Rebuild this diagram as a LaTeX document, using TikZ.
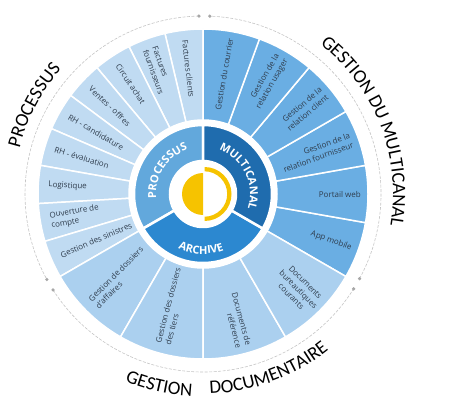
\documentclass[tikz,border=0pt]{standalone}
\usepackage{fontspec}
\setmainfont{Carlito}
\newfontfamily\osans{Open Sans}
\usetikzlibrary{decorations.text}
\definecolor{procseg}{HTML}{C0DBF2}
\definecolor{docseg}{HTML}{ABD0EF}
\definecolor{multseg}{HTML}{6AAEE3}
\definecolor{hubproc}{HTML}{62A8DC}
\definecolor{hubmult}{HTML}{1F6CAE}
\definecolor{hubarch}{HTML}{2C88D0}
\definecolor{sun}{HTML}{F6C300}
\definecolor{segtext}{HTML}{2F3D4D}
\definecolor{ringgray}{HTML}{C4C4C4}
\newcommand{\titlefont}{\fontsize{19}{19}\selectfont}
\newcommand{\hubfont}{\osans\fontsize{11}{12}\selectfont\bfseries}
\tikzset{
  segtxt/.style={font=\osans\fontsize{8}{10}\selectfont, text=segtext, inner sep=0pt},
  lefttxt/.style={segtxt, anchor=west, align=left},
  righttxt/.style={segtxt, anchor=east, align=right},
  sepline/.style={draw=white, line width=1.5pt},
  hubsep/.style={draw=white, line width=2.5pt},
  dashring/.style={draw=ringgray, line width=0.6pt, dash pattern=on 3pt off 1.5pt},
  ringdot/.style={fill=ringgray!85!black},
}
\begin{document}
\begin{tikzpicture}[x=1pt,y=1pt]
\useasboundingbox (0,0) rectangle (474,400);
\coordinate (C) at (203,206);

% outer segments: processus
\foreach \i in {0,...,8}{
  \pgfmathsetmacro\a{90+\i*40/3}
  \pgfmathsetmacro\b{\a+40/3}
  \filldraw[fill=procseg, sepline] ([shift={(\a:74)}]C) arc[start angle=\a, end angle=\b, radius=74]
    -- ([shift={(\b:165)}]C) arc[start angle=\b, end angle=\a, radius=165] -- cycle;
}
% multicanal
\foreach \i in {0,...,5}{
  \pgfmathsetmacro\a{-30+\i*20}
  \pgfmathsetmacro\b{\a+20}
  \filldraw[fill=multseg, sepline] ([shift={(\a:74)}]C) arc[start angle=\a, end angle=\b, radius=74]
    -- ([shift={(\b:165)}]C) arc[start angle=\b, end angle=\a, radius=165] -- cycle;
}
% documentaire
\foreach \i in {0,...,3}{
  \pgfmathsetmacro\a{210+\i*30}
  \pgfmathsetmacro\b{\a+30}
  \filldraw[fill=docseg, sepline] ([shift={(\a:74)}]C) arc[start angle=\a, end angle=\b, radius=74]
    -- ([shift={(\b:165)}]C) arc[start angle=\b, end angle=\a, radius=165] -- cycle;
}

% hub ring
\filldraw[fill=hubproc, hubsep] ([shift={(90:33)}]C) arc[start angle=90, end angle=210, radius=33]
  -- ([shift={(210:69)}]C) arc[start angle=210, end angle=90, radius=69] -- cycle;
\filldraw[fill=hubarch, hubsep] ([shift={(210:33)}]C) arc[start angle=210, end angle=330, radius=33]
  -- ([shift={(330:69)}]C) arc[start angle=330, end angle=210, radius=69] -- cycle;
\filldraw[fill=hubmult, hubsep] ([shift={(-30:33)}]C) arc[start angle=-30, end angle=90, radius=33]
  -- ([shift={(90:69)}]C) arc[start angle=90, end angle=-30, radius=69] -- cycle;

% yellow symbol
\fill[sun] ([shift={(90:21)}]C) arc[start angle=90, end angle=270, radius=21] -- cycle;
\fill[sun] ([shift={(90:27)}]C) ++(1.5,0) arc[start angle=90, end angle=-90, radius=27]
  -- ++(0,4.3) arc[start angle=-90, end angle=90, radius=22.7] -- cycle;

% dashed outer ring
\draw[dashring] ([shift={(91.3:178)}]C) arc[start angle=91.3, end angle=208.7, radius=178];
\draw[dashring] ([shift={(212.6:178)}]C) arc[start angle=212.6, end angle=327.8, radius=178];
\draw[dashring] ([shift={(-28.4:178)}]C) arc[start angle=-28.4, end angle=87.8, radius=178];
\foreach \d in {91.3,87.8,208.7,212.6,-28.4,-32.2}{
  \fill[ringdot] ([shift={(\d:178)}]C) circle[radius=1.8];
}

% segment labels: processus (reading inward)
\foreach \ang/\txt [count=\k] in {96.667/{Factures clients}, 110/{Factures\\fournisseurs},
  123.333/{Circuit achat}, 136.667/{Ventes - offres}, 150/{RH - candidature},
  163.333/{RH - évaluation}, 176.667/{Logistique}, 190/{Ouverture de\\compte},
  203.333/{Gestion des sinistres}, 225/{Gestion de dossiers\\d’affaires},
  255/{Gestion des dossiers\\des tiers}}{
  \pgfmathsetmacro\rot{\ang-180}
  \node[lefttxt, rotate=\rot] (L\k) at ([shift={(\ang:155)}]C) {\txt};
}
% segment labels: multicanal and right documentaire (reading outward)
\foreach \ang/\txt [count=\k] in {80/{Gestion du courrier}, 60/{Gestion de la\\relation usager},
  40/{Gestion de la\\relation client}, 20/{Gestion de la\\relation fournisseur},
  0/{Portail web}, -20/{App mobile}, -75/{Documents de\\référence}}{
  \node[righttxt, rotate=\ang] (R\k) at ([shift={(\ang:158)}]C) {\txt};
}
\node[righttxt, align=center, rotate=-45] (R8) at ([shift={(-45:160)}]C) {Documents\\bureautiques\\courants};

% hub labels
\path[decorate, decoration={text along path, text align=center, text color=white,
  text={|\hubfont|PROCESSUS}}] ([shift={(207:47)}]C) arc[start angle=207, end angle=87, radius=47];
\path[decorate, decoration={text along path, text align=center, text color=white,
  text={|\hubfont|MULTICANAL}}] ([shift={(86:47)}]C) arc[start angle=86, end angle=-34, radius=47];
\path[decorate, decoration={text along path, text align=center, text color=white,
  text={|\hubfont|ARCHIVE}}] ([shift={(208:60)}]C) arc[start angle=208, end angle=328, radius=60];

% outer titles
\path[decorate, decoration={text along path, text align=left, text color=black,
  text={|\titlefont|PROCESSUS}}] ([shift={(166:189)}]C) arc[start angle=166, end angle=110, radius=189];
\path[decorate, decoration={text along path, text align=left, text color=black,
  text={|\titlefont|GESTION DU MULTICANAL}}] ([shift={(52:190)}]C) arc[start angle=52, end angle=-40, radius=190];
\path[decorate, decoration={text along path, text align=left, text color=black,
  text={|\titlefont|GESTION}}] ([shift={(247.4:203)}]C) arc[start angle=247.4, end angle=280, radius=203];
\path[decorate, decoration={text along path, text align=left, text color=black,
  text={|\titlefont|DOCUMENTAIRE}}] ([shift={(272:200)}]C) arc[start angle=272, end angle=340, radius=200];
\end{tikzpicture}
\end{document}
